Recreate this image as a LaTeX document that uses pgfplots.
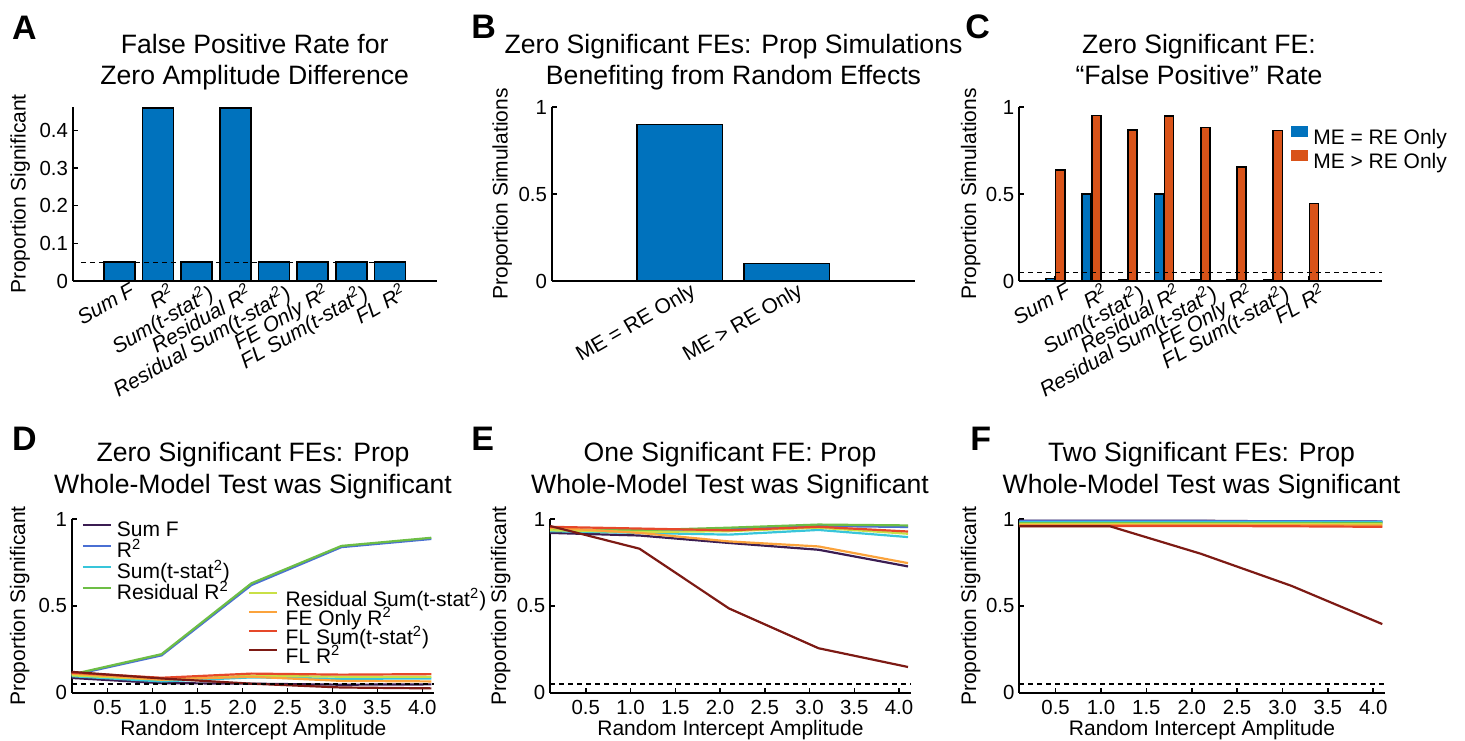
\documentclass[border=0pt]{standalone}
\usepackage{fontspec}
\setmainfont{Liberation Sans}
\usepackage{pgfplots}
\usepackage{pgfplotstable}
\pgfplotsset{compat=1.18}

\definecolor{mblue}{HTML}{0072BD}
\definecolor{morange}{HTML}{D95319}
\definecolor{cSumF}{HTML}{3B1D52}
\definecolor{cRsq}{HTML}{4A6FD3}
\definecolor{cSumT}{HTML}{38C5DA}
\definecolor{cResR}{HTML}{6DBE45}
\definecolor{cResT}{HTML}{C9E046}
\definecolor{cFE}{HTML}{FBA33C}
\definecolor{cFLT}{HTML}{E6482A}
\definecolor{cFLR}{HTML}{7D1A14}

\newcommand\titlefont{\fontsize{13.3pt}{15.5pt}\selectfont}
\newcommand\tickfont{\fontsize{10.2pt}{12pt}\selectfont}
\newcommand\labfont{\fontsize{10.5pt}{12.5pt}\selectfont}
\newcommand\letterfont{\fontsize{17pt}{20pt}\selectfont\bfseries}

% proportion of significant whole-model tests, per random intercept amplitude
\pgfplotstableread{
x    SumF  Rsq   SumT  ResR  ResT  FE    FLT   FLR
0.1  0.085 0.100 0.095 0.105 0.100 0.110 0.115 0.120
1.1  0.055 0.215 0.065 0.222 0.075 0.075 0.086 0.082
2.1  0.052 0.620 0.088 0.630 0.098 0.092 0.110 0.052
3.1  0.046 0.838 0.080 0.845 0.092 0.068 0.104 0.030
4.1  0.048 0.885 0.082 0.892 0.092 0.065 0.107 0.025
}\tabD
\pgfplotstableread{
x    SumF  Rsq   SumT  ResR  ResT  FE    FLT   FLR
0.1  0.920 0.935 0.930 0.940 0.935 0.950 0.955 0.960
1.1  0.905 0.935 0.920 0.935 0.925 0.920 0.945 0.829
2.1  0.862 0.940 0.910 0.950 0.930 0.871 0.935 0.485
3.1  0.823 0.960 0.937 0.968 0.950 0.842 0.955 0.256
4.1  0.727 0.954 0.896 0.963 0.915 0.746 0.928 0.148
}\tabE
\pgfplotstableread{
x    SumF  Rsq   SumT  ResR  ResT  FE    FLT   FLR
0.1  0.990 0.988 0.982 0.976 0.972 0.966 0.960 0.958
1.1  0.990 0.988 0.982 0.976 0.972 0.966 0.960 0.958
2.1  0.990 0.988 0.982 0.976 0.972 0.966 0.960 0.800
3.1  0.986 0.987 0.982 0.976 0.971 0.964 0.958 0.615
4.1  0.985 0.986 0.981 0.975 0.970 0.963 0.955 0.395
}\tabF

\pgfplotsset{
  mlax/.style={
    anchor=south west, scale only axis, axis lines=left,
    axis line style={line width=1pt,-},
    tick align=inside, major tick length=2.5pt,
    tick style={black, line width=0.8pt},
    tick label style={font=\tickfont},
    yticklabel style={inner sep=2.2pt, anchor=east},
    /pgf/number format/assume math mode=true,
    clip=false,
  },
  barax/.style={mlax, height=87pt,
    xticklabel style={rotate=30, anchor=north east, inner sep=0pt,
      xshift=4pt, yshift=-2.5pt, font=\labfont\itshape}},
  lineax/.style={mlax, height=86.85pt, xmin=0.1, xmax=4.13, ymin=0, ymax=1,
    ytick={0,0.5,1}, yticklabels={0,0.5,1},
    xtick={0.5,1,1.5,2,2.5,3,3.5,4},
    xticklabels={0.5,1.0,1.5,2.0,2.5,3.0,3.5,4.0},
    xticklabel style={inner sep=3.5pt},
    legend image code/.code={\draw[##1] (0pt,3.3pt) -- (14pt,3.3pt);}},
  lw/.style={line width=1.1pt},
  refline/.style={black, line width=0.65pt, dash pattern=on 2.5pt off 2pt},
  barsty/.style={ybar, draw=black, line width=0.8pt},
}

\newcommand\eightlines[1]{%
  \addplot[cSumF, lw] table[x=x, y=SumF]{#1};
  \addplot[cRsq,  lw] table[x=x, y=Rsq]{#1};
  \addplot[cSumT, lw] table[x=x, y=SumT]{#1};
  \addplot[cResR, lw] table[x=x, y=ResR]{#1};
  \addplot[cResT, lw] table[x=x, y=ResT]{#1};
  \addplot[cFE,   lw] table[x=x, y=FE]{#1};
  \addplot[cFLT,  lw] table[x=x, y=FLT]{#1};
  \addplot[cFLR,  lw] table[x=x, y=FLR]{#1};
  \addplot[refline] coordinates {(0.1,0.05) (4.13,0.05)};
}

\newcommand\measures{Sum F, R\textsuperscript{2}, Sum(t-stat\textsuperscript{2}),
  Residual R\textsuperscript{2}, Residual Sum(t-stat\textsuperscript{2}),
  FE Only R\textsuperscript{2}, FL Sum(t-stat\textsuperscript{2}), FL R\textsuperscript{2}}

\begin{document}
\begin{tikzpicture}
\path (0,0) rectangle (732.5pt,370pt);

% ---------- A ----------
\begin{axis}[barax, at={(36.35pt,229.5pt)}, width=182pt,
  xmin=-0.21, xmax=9.21, ymin=0, ymax=0.462,
  ytick={0,0.1,0.2,0.3,0.4}, yticklabels={0,0.1,0.2,0.3,0.4},
  xtick={1,2,3,4,5,6,7,8},
  xticklabels={Sum F, R\textsuperscript{2}, Sum(t-stat\textsuperscript{2}),
  Residual R\textsuperscript{2}, Residual Sum(t-stat\textsuperscript{2}),
  FE Only R\textsuperscript{2}, FL Sum(t-stat\textsuperscript{2}), FL R\textsuperscript{2}}]
\addplot[barsty, bar width=0.8, fill=mblue] coordinates
  {(1,0.05) (2,0.46) (3,0.05) (4,0.46) (5,0.05) (6,0.05) (7,0.05) (8,0.05)};
\addplot[refline] coordinates {(0,0.05) (8.4,0.05)};
\end{axis}

% ---------- B ----------
\begin{axis}[barax, at={(275.85pt,229.5pt)}, width=181.65pt,
  xmin=-0.2, xmax=3.2, ymin=0, ymax=1,
  ytick={0,0.5,1}, yticklabels={0,0.5,1},
  xtick={1,2}, xticklabels={ME = RE Only, ME > RE Only},
  xticklabel style={font=\labfont\upshape}]
\addplot[barsty, bar width=0.8, fill=mblue] coordinates {(1,0.90) (2,0.10)};
\end{axis}

% ---------- C ----------
\begin{axis}[barax, at={(509.5pt,229.5pt)}, width=181.35pt,
  xmin=0, xmax=10, ymin=0, ymax=1,
  ytick={0,0.5,1}, yticklabels={0,0.5,1},
  xtick={1,2,3,4,5,6,7,8},
  xticklabels={Sum F, R\textsuperscript{2}, Sum(t-stat\textsuperscript{2}),
  Residual R\textsuperscript{2}, Residual Sum(t-stat\textsuperscript{2}),
  FE Only R\textsuperscript{2}, FL Sum(t-stat\textsuperscript{2}), FL R\textsuperscript{2}},
  legend style={at={(0.749,0.888)}, anchor=north west, draw=none, fill=none,
    inner sep=0pt, outer sep=0pt, font=\labfont,
    nodes={inner sep=0pt, text height=7.6pt, text depth=2.4pt},
    row sep=0.5pt, column sep=2.5pt},
  legend cell align=left,
  legend image code/.code={\fill[#1, draw=none] (0pt,1pt) rectangle (8.8pt,6.5pt);}]
\addplot[barsty, bar width=0.25, bar shift=-0.135, fill=mblue] coordinates
  {(1,0.015) (2,0.501) (3,0.005) (4,0.501) (5,0.005) (6,0.008) (7,0.008) (8,0.003)};
\addlegendentry{ME = RE Only}
\addplot[barsty, bar width=0.25, bar shift=0.135, fill=morange] coordinates
  {(1,0.638) (2,0.952) (3,0.869) (4,0.948) (5,0.883) (6,0.654) (7,0.864) (8,0.445)};
\addlegendentry{ME > RE Only}
\addplot[refline] coordinates {(0,0.05) (10,0.05)};
\end{axis}

% ---------- D ----------
\begin{axis}[lineax, at={(35.85pt,23.65pt)}, width=181.15pt,
  legend entries={Sum F, R\textsuperscript{2}, Sum(t-stat\textsuperscript{2}), Residual R\textsuperscript{2}},
  legend style={at={(0.0276,0.9856)}, anchor=north west, draw=none, fill=none,
    inner sep=0pt, outer sep=0pt, font=\labfont,
    nodes={inner sep=0pt, text height=7.6pt, text depth=2.4pt},
    row sep=0.5pt, column sep=2.5pt},
  legend cell align=left]
\eightlines{\tabD}
\end{axis}
\begin{axis}[lineax, at={(35.85pt,23.65pt)}, width=181.15pt, hide axis,
  legend style={at={(0.4874,0.5866)}, anchor=north west, draw=none, fill=none,
    inner sep=0pt, outer sep=0pt, font=\labfont,
    nodes={inner sep=0pt, text height=7.6pt, text depth=1.4pt},
    row sep=0.5pt, column sep=3.6pt},
  legend cell align=left]
\addlegendimage{cResT, lw}
\addlegendentry{Residual Sum(t-stat\textsuperscript{2})}
\addlegendimage{cFE, lw}
\addlegendentry{FE Only R\textsuperscript{2}}
\addlegendimage{cFLT, lw}
\addlegendentry{FL Sum(t-stat\textsuperscript{2})}
\addlegendimage{cFLR, lw}
\addlegendentry{FL R\textsuperscript{2}}
\end{axis}

% ---------- E ----------
\begin{axis}[lineax, at={(275pt,23.65pt)}, width=180.35pt]
\eightlines{\tabE}
\end{axis}

% ---------- F ----------
\begin{axis}[lineax, at={(509.65pt,23.65pt)}, width=182.85pt]
\eightlines{\tabF}
\end{axis}

% panel letters
\node[anchor=base west, inner sep=0pt, font=\letterfont] at (5.85pt,350.35pt) {A};
\node[anchor=base west, inner sep=0pt, font=\letterfont] at (235.5pt,350.6pt) {B};
\node[anchor=base west, inner sep=0pt, font=\letterfont] at (482.5pt,350.85pt) {C};
\node[anchor=base west, inner sep=0pt, font=\letterfont] at (5.85pt,144.65pt) {D};
\node[anchor=base west, inner sep=0pt, font=\letterfont] at (235.5pt,144.9pt) {E};
\node[anchor=base west, inner sep=0pt, font=\letterfont] at (485pt,144.65pt) {F};

% titles
\begin{scope}[every node/.style={anchor=base, inner sep=0pt, font=\titlefont}]
\node at (127.35pt,343.35pt) {False Positive Rate for};
\node at (127.35pt,327.85pt) {Zero Amplitude Difference};
\node at (366.75pt,343.35pt) {Zero Significant FEs: Prop Simulations};
\node at (366.75pt,327.85pt) {Benefiting from Random Effects};
\node at (599.5pt,343.35pt) {Zero Significant FE:};
\node at (599.5pt,327.85pt) {“False Positive” Rate};
\node at (126.5pt,139.15pt) {Zero Significant FEs: Prop};
\node at (126.5pt,123.35pt) {Whole-Model Test was Significant};
\node at (365pt,139.15pt) {One Significant FE: Prop};
\node at (365pt,123.35pt) {Whole-Model Test was Significant};
\node at (600.75pt,139.15pt) {Two Significant FEs: Prop};
\node at (600.75pt,123.35pt) {Whole-Model Test was Significant};
\end{scope}

% axis labels
\begin{scope}[every node/.style={inner sep=0pt, font=\labfont}]
\node[rotate=90, anchor=base] at (12.75pt,273pt) {Proportion Significant};
\node[rotate=90, anchor=base] at (253.75pt,273pt) {Proportion Simulations};
\node[rotate=90, anchor=base] at (488pt,273pt) {Proportion Simulations};
\node[rotate=90, anchor=base] at (12.5pt,67pt) {Proportion Significant};
\node[rotate=90, anchor=base] at (253pt,67pt) {Proportion Significant};
\node[rotate=90, anchor=base] at (488pt,67pt) {Proportion Significant};
\node[anchor=base] at (126.7pt,2.5pt) {Random Intercept Amplitude};
\node[anchor=base] at (365.2pt,2.5pt) {Random Intercept Amplitude};
\node[anchor=base] at (601pt,2.5pt) {Random Intercept Amplitude};
\end{scope}
\end{tikzpicture}
\end{document}
